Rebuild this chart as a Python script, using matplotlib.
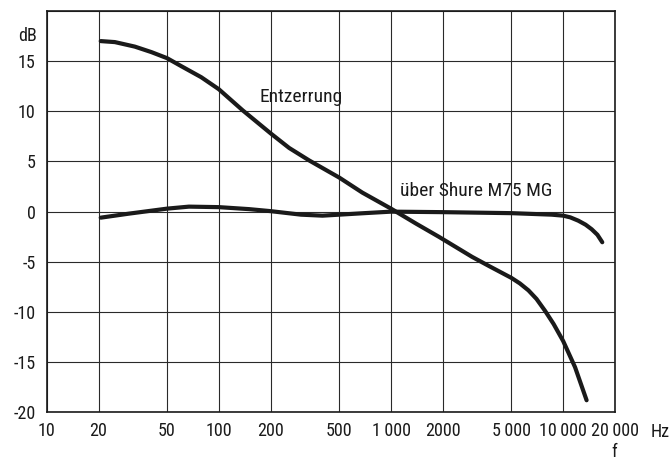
import matplotlib
matplotlib.use("Agg")
import matplotlib.pyplot as plt
from matplotlib import font_manager


def pick_narrow_face():
    """Return (family, stretch) of a narrow sans face, or None."""
    faces = font_manager.fontManager.ttflist
    names = {f.name for f in faces}
    for fam in ['Liberation Sans Narrow', 'Roboto Condensed',
                'Open Sans Condensed', 'Noto Sans Condensed',
                'DejaVu Sans Condensed']:
        if fam in names:
            return fam, 'normal'
    for f in faces:
        n = f.name.lower()
        if ('narrow' in n or 'condensed' in n) and f.style == 'normal':
            return f.name, 'normal'
    for f in faces:
        if 'condensed' in str(f.stretch) and f.style == 'normal':
            return f.name, 'condensed'
    return None


face = pick_narrow_face()
if face:
    plt.rcParams['font.family'] = [face[0], 'DejaVu Sans']
    plt.rcParams['font.stretch'] = face[1]
    wide = face[0].startswith('DejaVu')
    TICK_FS, LABEL_FS = (11, 12.5) if wide else (13, 14)
else:
    plt.rcParams['font.family'] = ['Liberation Sans', 'DejaVu Sans']
    TICK_FS, LABEL_FS = 10.5, 11.5

# Frequency axis ticks (Hz) and their printed labels
x_ticks = [10, 20, 50, 100, 200, 500, 1000, 2000, 5000, 10000, 20000]
x_labels = ["10", "20", "50", "100", "200", "500", "1\u2009000", "2000",
            "5\u2009000", "10\u2009000", "20\u2009000"]
y_ticks = [-20, -15, -10, -5, 0, 5, 10, 15]
y_labels = ["-20", "-15", "-10", "-5", "0", "5", "10", "15"]

# De-emphasis curve ("Entzerrung")
entz_f = [20.6, 24.9, 32.5, 40.6, 50, 60.5, 79, 100, 137.5, 200, 256, 335,
          500, 681, 1000, 1400, 1894, 2953, 3689, 5000, 5600, 6288, 7000,
          7858, 8800, 10000, 11720, 13680]
entz_db = [17.0, 16.9, 16.45, 15.9, 15.3, 14.5, 13.4, 12.2, 10.1, 7.8, 6.35,
           5.1, 3.4, 1.9, 0.3, -1.2, -2.5, -4.5, -5.4, -6.6, -7.15, -7.85,
           -8.7, -9.9, -11.2, -12.9, -15.5, -18.8]

# Overall response via Shure M75 MG
shure_f = [20.6, 30, 50, 67, 100, 150, 200, 300, 400, 500, 700, 1000, 2000,
           5000, 8580, 10000, 11000, 12240, 13500, 14630, 15800, 16870]
shure_db = [-0.6, -0.2, 0.3, 0.5, 0.45, 0.25, 0.05, -0.3, -0.4, -0.3, -0.15,
            0.0, -0.05, -0.15, -0.3, -0.4, -0.57, -0.9, -1.3, -1.75, -2.3,
            -3.05]

INK = '#1a1a1a'
W, H = 671, 461
fig = plt.figure(figsize=(W / 100, H / 100), dpi=100)
ax = fig.add_axes([46.7 / W, 1 - 412.3 / H, (615 - 46.7) / W, (412.3 - 11) / H])

ax.set_xscale('log')
ax.set_xlim(10, 20000)
ax.set_ylim(-20, 20)
ax.minorticks_off()
ax.set_xticks(x_ticks)
ax.set_xticklabels(x_labels)
ax.set_yticks(y_ticks)
ax.set_yticklabels(y_labels)
ax.tick_params(length=0, labelsize=TICK_FS, colors=INK)
ax.tick_params(axis='x', pad=7)
ax.tick_params(axis='y', pad=8)

for v in x_ticks:
    ax.axvline(v, color='#2a2a2a', lw=0.8, zorder=1)
for v in y_ticks + [20]:
    ax.axhline(v, color='#2a2a2a', lw=0.8, zorder=1)
for s in ax.spines.values():
    s.set_linewidth(1.2)
    s.set_color(INK)

ax.plot(entz_f, entz_db, color=INK, lw=3.0, solid_capstyle='round',
        solid_joinstyle='round', zorder=3)
ax.plot(shure_f, shure_db, color=INK, lw=3.0, solid_capstyle='round',
        solid_joinstyle='round', zorder=3)

ax.text(172, 10.9, "Entzerrung", fontsize=LABEL_FS, ha='left', va='baseline',
        color=INK, zorder=4)
ax.text(1126, 1.6, "über Shure M75 MG", fontsize=LABEL_FS, ha='left',
        va='baseline', color=INK, zorder=4)

fig.text(27.5 / W, 1 - 36 / H, "dB", fontsize=TICK_FS, ha='center',
         va='center', color=INK)
fig.text(660 / W, 1 - 432 / H, "Hz", fontsize=TICK_FS, ha='center',
         va='center', color=INK)
fig.text(614 / W, 1 - 457 / H, "f", fontsize=TICK_FS, ha='center',
         va='baseline', color=INK)

fig.savefig("out.png", dpi=100, facecolor='white')
